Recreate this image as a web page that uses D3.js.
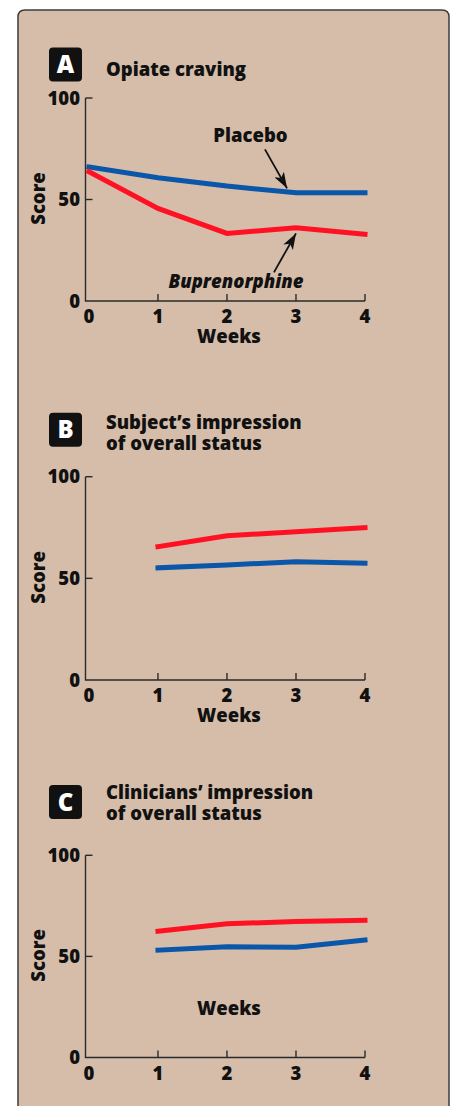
<!DOCTYPE html>
<html>
<head>
<meta charset="utf-8">
<script src="https://cdn.jsdelivr.net/npm/d3@7"></script>
<style>
  html, body { margin: 0; padding: 0; background: #ffffff; }
  svg { display: block; }
  text { font-family: "Open Sans", "Noto Sans", sans-serif; font-weight: 800; fill: #111; }
</style>
</head>
<body>
<svg id="chart" width="452" height="1106"></svg>
<script>
// ---------- data ----------
const weeksA = [0, 1, 2, 3, 4];
const placeboA = [66, 60.7, 56.6, 53.3, 53.3];
const buprenorphineA = [63.7, 45.6, 33.3, 36.1, 32.9];

const weeksBC = [1, 2, 3, 4];
const placeboB = [55.2, 56.6, 58.2, 57.4];
const buprenorphineB = [65.6, 71.0, 72.9, 74.9];
const placeboC = [53.1, 54.8, 54.5, 58.1];
const buprenorphineC = [62.4, 66.1, 67.3, 67.8];

const xTickValues = [0, 1, 2, 3, 4];
const yTickValues = [0, 50, 100];
const panelLetters = ["A", "B", "C"];
const panelTitles = [
  ["Opiate craving"],
  ["Subject\u2019s impression", "of overall status"],
  ["Clinicians\u2019 impression", "of overall status"]
];
const seriesNames = ["Placebo", "Buprenorphine"];
const xAxisLabel = "Weeks";
const yAxisLabel = "Score";

// ---------- layout ----------
const BLUE = "#0a56a8", RED = "#ff1023";
const svg = d3.select("#chart");

svg.append("path")
  .attr("d", (() => {
    const x0 = 18, y0 = 10, x1 = 449, y1 = 1130, r = 7;
    return `M${x0},${y1} L${x0},${y0 + r} Q${x0},${y0} ${x0 + r},${y0} L${x1 - r},${y0} Q${x1},${y0} ${x1},${y0 + r} L${x1},${y1}`;
  })())
  .attr("fill", "#d5bdaa")
  .attr("stroke", "#3c3c3c")
  .attr("stroke-width", 1.5);

const x = d3.scaleLinear().domain([-0.05, 4]).range([85.5, 365]);

const panels = [
  { weeks: weeksA, placebo: placeboA, bup: buprenorphineA, y100: 98, y0: 301,
    boxTop: 47.5, titleBase: [76], weeksBelow: true },
  { weeks: weeksBC, placebo: placeboB, bup: buprenorphineB, y100: 476.7, y0: 680,
    boxTop: 412.7, titleBase: [429.3, 450], weeksBelow: true },
  { weeks: weeksBC, placebo: placeboC, bup: buprenorphineC, y100: 855.3, y0: 1057.5,
    boxTop: 785, titleBase: [799.3, 820], weeksBelow: false }
];

const defs = svg.append("defs");
defs.append("marker")
  .attr("id", "ah").attr("viewBox", "0 0 16 11")
  .attr("refX", 16).attr("refY", 5.5)
  .attr("markerWidth", 16).attr("markerHeight", 11)
  .attr("markerUnits", "userSpaceOnUse")
  .attr("orient", "auto")
  .append("path").attr("d", "M0,0 L16,5.5 L0,11 L4,5.5 Z").attr("fill", "#111");

panels.forEach((p, i) => {
  const g = svg.append("g");
  const y = d3.scaleLinear().domain([0, 100]).range([p.y0, p.y100]);

  // panel letter box
  g.append("rect")
    .attr("x", 49).attr("y", p.boxTop).attr("width", 33).attr("height", 34)
    .attr("rx", 4).attr("fill", "#111");
  g.append("text")
    .attr("x", 65.5).attr("y", p.boxTop + 25.5)
    .attr("text-anchor", "middle")
    .style("font-size", "24px").style("fill", "#fff")
    .text(panelLetters[i]);

  // title
  panelTitles[i].forEach((t, j) => {
    g.append("text")
      .attr("x", 106).attr("y", p.titleBase[j])
      .style("font-size", "18.5px")
      .text(t);
  });

  // axes lines
  const xl = x(-0.05), xr = x(4);
  g.append("path")
    .attr("d", `M${xl},${y(100)} L${xl},${y(0)} L${xr},${y(0)}`)
    .attr("fill", "none").attr("stroke", "#2a2a2a").attr("stroke-width", 1.4);

  // y ticks (inward)
  yTickValues.filter(v => v > 0).forEach(v => {
    g.append("line")
      .attr("x1", xl).attr("x2", xl + 7)
      .attr("y1", y(v)).attr("y2", y(v))
      .attr("stroke", "#2a2a2a").attr("stroke-width", 1.4);
  });
  yTickValues.forEach(v => {
    g.append("text")
      .attr("x", 80).attr("y", y(v) + 6.5)
      .attr("text-anchor", "end")
      .style("font-size", "18.5px")
      .text(v);
  });

  // x ticks (inward)
  xTickValues.filter(v => v > 0).forEach(v => {
    g.append("line")
      .attr("x1", x(v)).attr("x2", x(v))
      .attr("y1", y(0)).attr("y2", y(0) - 7)
      .attr("stroke", "#2a2a2a").attr("stroke-width", 1.4);
  });
  xTickValues.forEach(v => {
    g.append("text")
      .attr("x", x(v)).attr("y", y(0) + 22)
      .attr("text-anchor", "middle")
      .style("font-size", "18.5px")
      .text(v);
  });

  // axis labels
  g.append("text")
    .attr("x", 229)
    .attr("y", p.weeksBelow ? y(0) + 42 : y(0) - 42.5)
    .attr("text-anchor", "middle")
    .style("font-size", "18.5px")
    .text(xAxisLabel);
  g.append("text")
    .attr("transform", `translate(45,${y(50) - 1}) rotate(-90)`)
    .attr("text-anchor", "middle")
    .style("font-size", "18.5px")
    .text(yAxisLabel);

  // lines
  const line = d3.line().x(d => x(d[0])).y(d => y(d[1]));
  [[p.placebo, BLUE], [p.bup, RED]].forEach(([vals, col]) => {
    g.append("path")
      .datum(p.weeks.map((w, k) => [w, vals[k]]))
      .attr("d", line)
      .attr("fill", "none")
      .attr("stroke", col)
      .attr("stroke-width", 5)
      .attr("stroke-linecap", "square")
      .attr("stroke-linejoin", "miter");
  });

  // annotations (panel A)
  if (i === 0) {
    g.append("text")
      .attr("x", x(2.34)).attr("y", y(78.5))
      .attr("text-anchor", "middle")
      .style("font-size", "18.5px")
      .text(seriesNames[0]);
    g.append("line")
      .attr("x1", x(2.55)).attr("y1", y(74.7))
      .attr("x2", x(2.87)).attr("y2", y(55.5))
      .attr("stroke", "#111").attr("stroke-width", 1.8)
      .attr("marker-end", "url(#ah)");

    g.append("text")
      .attr("x", x(2.13)).attr("y", y(6.3))
      .attr("text-anchor", "middle")
      .style("font-size", "18.5px").style("font-style", "italic")
      .text(seriesNames[1]);
    g.append("line")
      .attr("x1", x(2.68)).attr("y1", y(14.1))
      .attr("x2", x(3.0)).attr("y2", y(33.3))
      .attr("stroke", "#111").attr("stroke-width", 1.8)
      .attr("marker-end", "url(#ah)");
  }
});
</script>
</body>
</html>
